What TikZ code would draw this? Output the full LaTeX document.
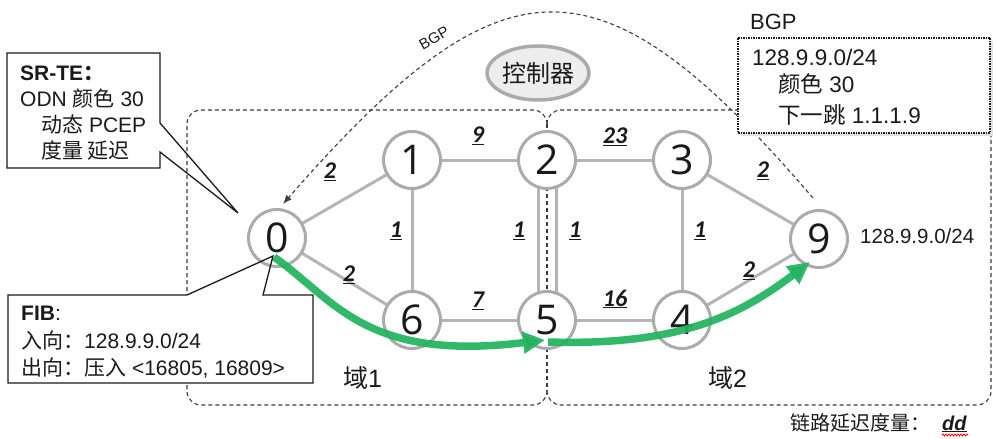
\documentclass[tikz,border=0pt]{standalone}
\usepackage{fontspec}
\setmainfont{Liberation Sans}
\newfontfamily\cjk{Noto Sans CJK SC}
\newfontfamily\labf{Carlito}
\newfontfamily\digf{Open Sans}
\usetikzlibrary{arrows.meta,decorations.pathmorphing,shapes.geometric}
\pgfdeclarelayer{bg}
\pgfsetlayers{bg,main}
\definecolor{ngray}{HTML}{ABABAB}
\definecolor{egray}{HTML}{B5B5B5}
\definecolor{grn}{HTML}{22B35E}
\definecolor{ink}{HTML}{1A1A1A}
\begin{document}
\begin{tikzpicture}[x=1pt,y=-1pt,
  netnode/.style={circle, draw=ngray, line width=3pt, fill=white, minimum size=57pt, inner sep=0pt, font=\digf\fontsize{41}{41}\selectfont, text=ink},
  link/.style={draw=egray, line width=3pt},
  dom/.style={draw=ink!85, line width=1.1pt, dash pattern=on 4pt off 3pt},
  wlab/.style={font=\labf\bfseries\itshape\fontsize{24}{24}\selectfont, inner sep=0pt, text=ink},
  txt/.style={anchor=base west, inner sep=0pt, font=\fontsize{21}{21}\selectfont, text=ink},
  greenpath/.style={draw=grn, line width=7.5pt, opacity=0.93, -{Triangle[length=22pt,width=21pt]}},
  callout/.style={draw=ink, line width=1.3pt, line join=miter},
]
\useasboundingbox (0,0) rectangle (997,439);

% network nodes
\node[netnode] (n0) at (277,238) {0};
\node[netnode] (n1) at (412,160) {1};
\node[netnode] (n2) at (547,160) {2};
\node[netnode] (n3) at (682,160) {3};
\node[netnode] (n6) at (412,320) {6};
\node[netnode] (n5) at (547,320) {5};
\node[netnode] (n4) at (682,320) {4};
\node[netnode] (n9) at (819,239) {9};

\begin{pgfonlayer}{bg}
  % SR-TE callout
  \coordinate (srtip) at (238,213);
  \fill[white] (7,53) rectangle (160,168);
  \draw[callout] (7,53) -- (160,53) -- (160,123) -- (srtip) -- (160,152) -- (160,168) -- (7,168) -- cycle;
  % domains
  \draw[dom, rounded corners=14pt] (547,124) -- (547,110) -- (187,110) -- (187,405) -- (547,405) -- (547,391);
  \draw[dom, rounded corners=14pt] (547,124) -- (547,110) -- (991,110) -- (991,405) -- (547,405) -- (547,391);
  % links
  \draw[link] (n0.center) -- (n1.center);
  \draw[link] (n0.center) -- (n6.center);
  \draw[link] (n1.center) -- (n2.center);
  \draw[link] (n1.center) -- (n6.center);
  \draw[link] (n6.center) -- (n5.center);
  \draw[link] (n2.center) -- (n3.center);
  \draw[link] (n5.center) -- (n4.center);
  \draw[link] (n3.center) -- (n4.center);
  \draw[link] (n3.center) -- (n9.center);
  \draw[link] (n4.center) -- (n9.center);
  \draw[draw=egray, line width=21pt] (n2.center) -- (n5.center);
  \draw[draw=white, line width=15pt] (n2.center) -- (n5.center);
  \draw[dom] (547,124) -- (547,391);
\end{pgfonlayer}

% link weights
\node[wlab] (l01) at (330,172) {\underline{2}};
\node[wlab] (l06) at (349,275) {\underline{2}};
\node[wlab] (l16) at (396,231) {\underline{1}};
\node[wlab] (l12) at (478,136) {\underline{9}};
\node[wlab] (l65) at (478,301) {\underline{7}};
\node[wlab] (l25a) at (519,231) {\underline{1}};
\node[wlab] (l25b) at (575,231) {\underline{1}};
\node[wlab] (l23) at (615,137) {\underline{23}};
\node[wlab] (l54) at (615,299) {\underline{16}};
\node[wlab] (l34) at (700,231) {\underline{1}};
\node[wlab] (l39) at (763,171) {\underline{2}};
\node[wlab] (l49) at (749,271) {\underline{2}};

% controller
\node[ellipse, draw=ngray, line width=3.5pt, fill=black!7, minimum width=78pt, minimum height=54pt, inner sep=0pt, font=\cjk\fontsize{24}{24}\selectfont, text=ink] (ctrl) at (538,73) {控制器};

% BGP arc
\coordinate (bgps) at (813,198);
\coordinate (bgpe) at (283,204);
\draw[dom, -{Latex[length=9pt,width=7pt]}] (bgps) .. controls (600,-50) and (505,-50) .. (bgpe);
\node[rotate=30, inner sep=0pt, font=\fontsize{15}{15}\selectfont, text=ink] (bgplab) at (434,38) {BGP};

% green path
\coordinate (g1s) at (274,257);
\coordinate (g1e) at (545,340);
\coordinate (g2s) at (548,342);
\coordinate (g2e) at (810,262);
\draw[greenpath] (g1s) .. controls (335,300) and (365,362) .. (g1e);
\draw[greenpath] (g2s) .. controls (680,346) and (740,315) .. (g2e);

% SR-TE text
\node[txt, font=\bfseries\fontsize{21}{21}\selectfont] (s1) at (20,80) {SR-TE{\cjk ：}};
\node[txt] (s2) at (20,106) {ODN {\cjk 颜色} 30};
\node[txt] (s3) at (41,132) {{\cjk 动态} PCEP};
\node[txt] (s4) at (41,158) {{\cjk 度量 延迟}};

% FIB callout
\coordinate (fibtip) at (273,256);
\fill[white] (8,295) rectangle (313,383);
\draw[callout] (8,295) -- (187,295) -- (fibtip) -- (263,295) -- (313,295) -- (313,383) -- (8,383) -- cycle;
\node[txt] (f1) at (21,320) {{\bfseries FIB}:};
\node[txt] (f2) at (21,348) {{\cjk 入向：}128.9.9.0/24};
\node[txt] (f3) at (21,375) {{\cjk 出向：压入} <16805, 16809>};

% BGP box
\fill[black!12] (741,41) rectangle (993,136);
\draw[fill=white, draw=ink, line width=1.1pt, dash pattern=on 1.5pt off 1pt] (738,38) rectangle (990,133);
\node[txt, font=\fontsize{22}{22}\selectfont] (b0) at (750,30) {BGP};
\node[txt, font=\fontsize{22.5}{22.5}\selectfont] (b1) at (752,65) {128.9.9.0/24};
\node[txt, font=\fontsize{22.5}{22.5}\selectfont] (b2) at (778,92) {{\cjk 颜色} 30};
\node[txt, font=\fontsize{22.5}{22.5}\selectfont] (b3) at (778,123) {{\cjk 下一跳} 1.1.1.9};

% prefix at node 9
\node[txt, font=\fontsize{20.5}{20.5}\selectfont] (n9lab) at (860,243) {128.9.9.0/24};

% domain labels
\node[txt, font=\fontsize{25}{25}\selectfont] (d1) at (343,387) {{\cjk 域}1};
\node[txt, font=\fontsize{25}{25}\selectfont] (d2) at (708,387) {{\cjk 域}2};

% legend
\node[txt, font=\cjk\fontsize{20}{20}\selectfont] (leg) at (790,430) {链路延迟度量：};
\node[txt, font=\bfseries\itshape\fontsize{20}{20}\selectfont] (legdd) at (942,430) {\underline{dd}};
\coordinate (wv1) at (942,435);
\coordinate (wv2) at (968,435);
\draw[red, line width=0.8pt, decorate, decoration={snake, amplitude=1pt, segment length=3pt}] (wv1) -- (wv2);
\end{tikzpicture}
\end{document}
